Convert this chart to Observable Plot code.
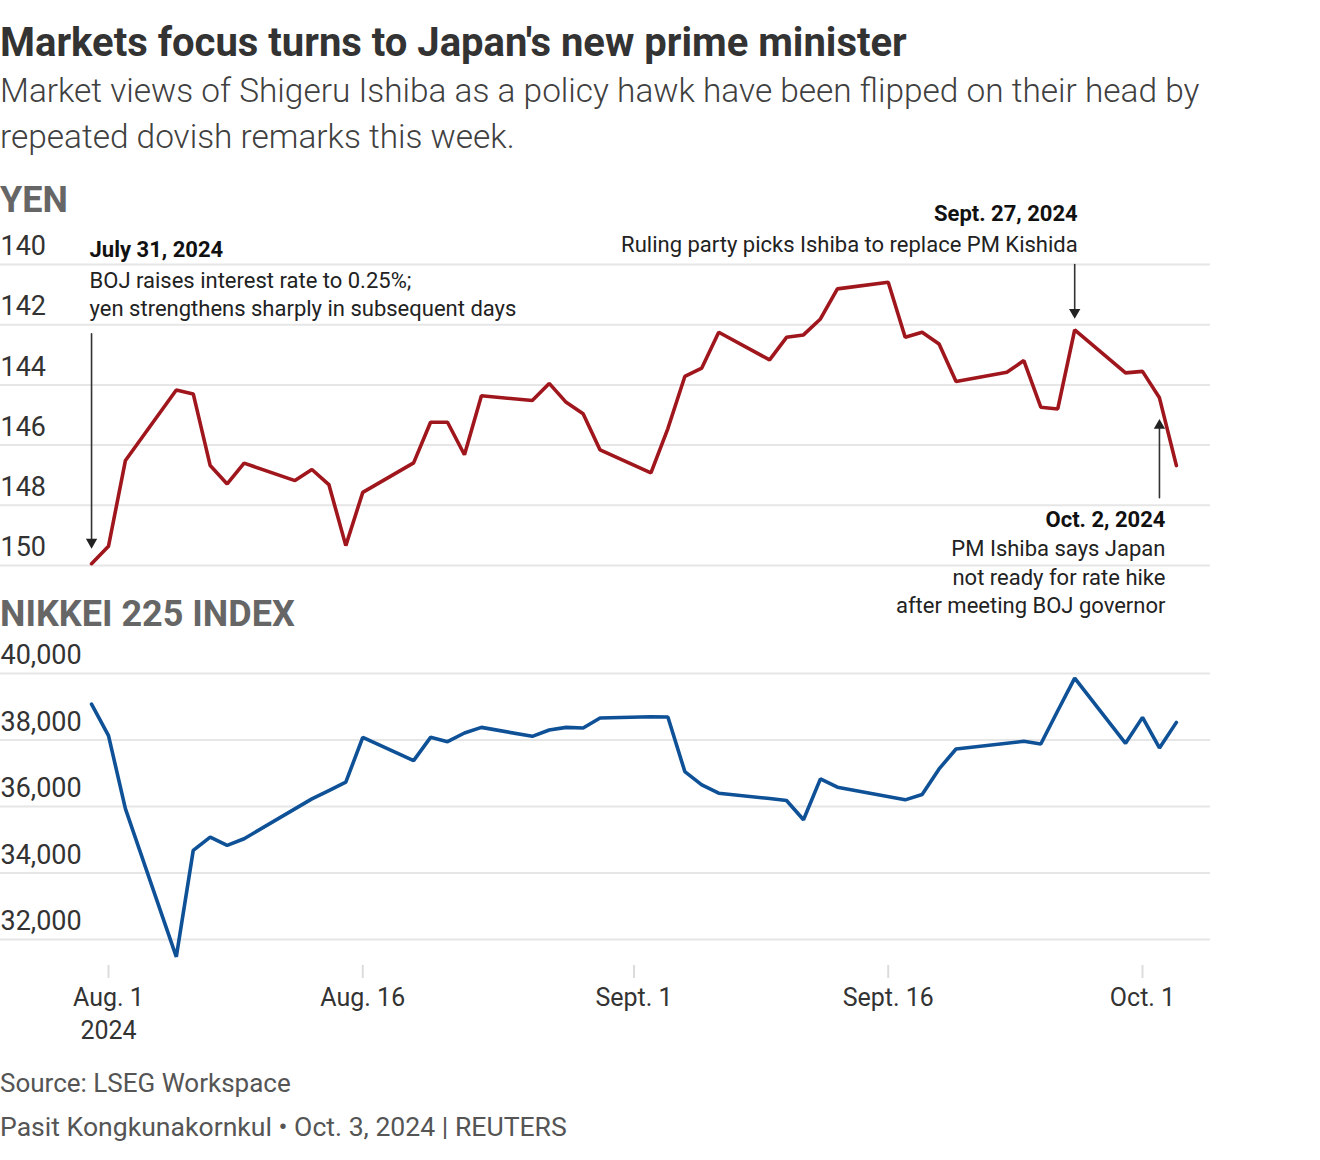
<!DOCTYPE html>
<html><head><meta charset="utf-8">
<script src="https://cdn.jsdelivr.net/npm/d3@7"></script>
<script src="https://cdn.jsdelivr.net/npm/@observablehq/plot@0.6"></script>
<style>
body{margin:0;background:#fff;font-family:Roboto,"Noto Sans",sans-serif;}
#wrap{position:relative;width:1320px;height:1160px;overflow:hidden;background:#fff;}
.abs{position:absolute;left:0;white-space:nowrap;}
#title{top:23px;font-size:40px;line-height:40px;font-weight:700;color:#333;}
#subtitle{top:68px;font-size:33.4px;line-height:46px;font-weight:300;color:#404040;}
.sec{font-size:36px;line-height:36px;font-weight:700;color:#666;}
#yenLabel{top:182px;}
#nikLabel{top:596px;}
#yenChart{position:absolute;left:0;top:180px;}
#nikChart{position:absolute;left:0;top:630px;}
.foot{color:#555;line-height:26px;}
#source{top:1070px;font-size:26px;}
#credit{top:1114px;font-size:26.6px;}
</style>
</head><body>
<div id="wrap">
  <div id="title" class="abs">Markets focus turns to Japan's new prime minister</div>
  <div id="subtitle" class="abs">Market views of Shigeru Ishiba as a policy hawk have been flipped on their head by<br>repeated dovish remarks this week.</div>
  <div id="yenLabel" class="abs sec">YEN</div>
  <div id="yenChart"></div>
  <div id="nikLabel" class="abs sec">NIKKEI 225 INDEX</div>
  <div id="nikChart"></div>
  <div id="source" class="abs foot">Source: LSEG Workspace</div>
  <div id="credit" class="abs foot">Pasit Kongkunakornkul • Oct. 3, 2024 | REUTERS</div>
</div>
<script>
// ---------- DATA ----------
const yenDates = ["2024-07-31","2024-08-01","2024-08-02","2024-08-05","2024-08-06","2024-08-07","2024-08-08","2024-08-09",
  "2024-08-12","2024-08-13","2024-08-14","2024-08-15","2024-08-16","2024-08-19","2024-08-20","2024-08-21","2024-08-22",
  "2024-08-23","2024-08-26","2024-08-27","2024-08-28","2024-08-29","2024-08-30","2024-09-02","2024-09-03","2024-09-04",
  "2024-09-05","2024-09-06","2024-09-09","2024-09-10","2024-09-11","2024-09-12","2024-09-13","2024-09-16","2024-09-17",
  "2024-09-18","2024-09-19","2024-09-20","2024-09-23","2024-09-24","2024-09-25","2024-09-26","2024-09-27","2024-09-30",
  "2024-10-01","2024-10-02","2024-10-03"];
const yenValues = [149.94,149.36,146.51,144.17,144.30,146.68,147.29,146.60,
  147.18,146.81,147.31,149.34,147.57,146.59,145.24,145.24,146.32,
  144.36,144.52,143.95,144.58,144.96,146.16,146.92,145.45,143.72,
  143.44,142.25,143.17,142.42,142.34,141.81,140.81,140.59,142.42,
  142.25,142.64,143.89,143.58,143.19,144.74,144.80,142.17,143.60,
  143.55,144.43,146.68];

const nikkeiDates = ["2024-07-31","2024-08-01","2024-08-02","2024-08-05","2024-08-06","2024-08-07","2024-08-08","2024-08-09",
  "2024-08-13","2024-08-14","2024-08-15","2024-08-16","2024-08-19","2024-08-20","2024-08-21","2024-08-22","2024-08-23",
  "2024-08-26","2024-08-27","2024-08-28","2024-08-29","2024-08-30","2024-09-02","2024-09-03","2024-09-04","2024-09-05",
  "2024-09-06","2024-09-09","2024-09-10","2024-09-11","2024-09-12","2024-09-13","2024-09-17","2024-09-18","2024-09-19",
  "2024-09-20","2024-09-24","2024-09-25","2024-09-26","2024-09-27","2024-09-30","2024-10-01","2024-10-02","2024-10-03"];
const nikkeiValues = [39080,38130,35930,31480,34680,35080,34830,35030,
  36230,36480,36730,38080,37380,38080,37950,38210,38380,
  38110,38300,38380,38360,38660,38700,38690,37050,36650,
  36400,36240,36180,35600,36830,36580,36200,36360,37130,
  37730,37960,37880,38880,39860,37900,38680,37760,38530];

const yenTicks = [140,142,144,146,148,150];
const nikkeiTicks = [32000,34000,36000,38000,40000];
const xTickDates = ["2024-08-01","2024-08-16","2024-09-01","2024-09-16","2024-10-01"];
const xTickLabels = ["Aug. 1\n2024","Aug. 16","Sept. 1","Sept. 16","Oct. 1"];

const noteDates = ["2024-07-31","2024-09-27","2024-10-02"];
const noteHeads = ["July 31, 2024","Sept. 27, 2024","Oct. 2, 2024"];
const noteBodies = ["BOJ raises interest rate to 0.25%;\nyen strengthens sharply in subsequent days",
  "Ruling party picks Ishiba to replace PM Kishida",
  "PM Ishiba says Japan\nnot ready for rate hike\nafter meeting BOJ governor"];
const arrowFrom = [142.3, 140, 147.75];

// ---------- LAYOUT ----------
const parse = d3.utcParse("%Y-%m-%d");
const W = 1320, AUG1_PX = 108, OCT1_PX = 1142, FRAME_RIGHT = 1210;
const DAY = 864e5;
const pxPerDay = (OCT1_PX - AUG1_PX) / 61;
const xDomain = [new Date(+parse("2024-08-01") - AUG1_PX / pxPerDay * DAY),
                 new Date(+parse("2024-10-01") + (FRAME_RIGHT - OCT1_PX) / pxPerDay * DAY)];
const FONT = "Roboto, 'Noto Sans', sans-serif";
const GRID = "#e6e6e6";

const yen = yenDates.map((d, i) => ({date: parse(d), value: yenValues[i]}));
const nikkei = nikkeiDates.map((d, i) => ({date: parse(d), value: nikkeiValues[i]}));
const tickDates = xTickDates.map(parse);
const tickLabelOf = new Map(tickDates.map((d, i) => [+d, xTickLabels[i]]));

const noteLayout = [
  {anchor: "start", dx: -2, frame: "top", headDy: -15, bodyDy: 28.5, rot: 180, inset: 22, triDy: -21.6},
  {anchor: "end", dx: 3, frame: "top", headDy: -51, bodyDy: -22, rot: 180, inset: 18, triDy: -17.6},
  {anchor: "end", dx: 6, frame: "bottom", headDy: -46, bodyDy: 10, rot: 0, inset: 28, triDy: 27.6}
];

const noteMarks = [];
noteDates.forEach((ds, i) => {
  const date = parse(ds);
  const L = noteLayout[i];
  const to = yen.find(d => +d.date === +date).value;
  const a = [{date, from: arrowFrom[i], to}];
  noteMarks.push(
    Plot.arrow(a, {x1: "date", x2: "date", y1: "from", y2: "to", insetEnd: L.inset, headLength: 0,
      stroke: "#333", strokeWidth: 1.6}),
    Plot.dot(a, {x: "date", y: "to", dy: L.triDy, symbol: "triangle", rotate: L.rot, r: 4.2,
      fill: "#222", stroke: "none"}),
    Plot.text([noteHeads[i]], {x: () => date, text: d => d, frameAnchor: L.frame, lineAnchor: "middle",
      textAnchor: L.anchor, dx: L.dx, dy: L.headDy, fontSize: 22, fontWeight: 700, fill: "#111"}),
    Plot.text([noteBodies[i]], {x: () => date, text: d => d, frameAnchor: L.frame, lineAnchor: "middle",
      textAnchor: L.anchor, dx: L.dx, dy: L.bodyDy, fontSize: 22, lineHeight: 1.28, fill: "#222"})
  );
});

const yenPlot = Plot.plot({
  width: W, height: 450,
  marginTop: 84, marginBottom: 65, marginLeft: 0, marginRight: W - FRAME_RIGHT,
  style: {fontFamily: FONT, background: "transparent", overflow: "visible"},
  x: {type: "utc", domain: xDomain, axis: null},
  y: {domain: [140, 150], reverse: true},
  marks: [
    Plot.ruleY(yenTicks, {stroke: GRID, strokeWidth: 2}),
    Plot.axisY({ticks: yenTicks, tickSize: 0, tickPadding: 0, textAnchor: "start", dy: -18,
      fontSize: 27, fill: "#333", label: null, tickFormat: d => String(d)}),
    Plot.line(yen, {x: "date", y: "value", stroke: "#a0161d", strokeWidth: 3.6, strokeLinejoin: "miter"}),
    ...noteMarks
  ]
});
document.getElementById("yenChart").appendChild(yenPlot);

const nikPlot = Plot.plot({
  width: W, height: 430,
  marginTop: 43, marginBottom: 121, marginLeft: 0, marginRight: W - FRAME_RIGHT,
  style: {fontFamily: FONT, background: "transparent", overflow: "visible"},
  x: {type: "utc", domain: xDomain},
  y: {domain: [32000, 40000]},
  marks: [
    Plot.ruleY(nikkeiTicks, {stroke: GRID, strokeWidth: 2}),
    Plot.axisY({ticks: nikkeiTicks, tickSize: 0, tickPadding: 0, textAnchor: "start", dy: -18,
      fontSize: 27, fill: "#333", label: null, tickFormat: d3.format(",")}),
    Plot.axisX({ticks: tickDates, tickSize: 13, tickPadding: 4, dy: 26, stroke: "#dcdcdc", strokeWidth: 2,
      fontSize: 25, fill: "#333", lineHeight: 1.32, label: null, tickFormat: d => tickLabelOf.get(+d)}),
    Plot.line(nikkei, {x: "date", y: "value", stroke: "#0f5197", strokeWidth: 3.6, strokeLinejoin: "miter"})
  ]
});
document.getElementById("nikChart").appendChild(nikPlot);
</script>
</body></html>
